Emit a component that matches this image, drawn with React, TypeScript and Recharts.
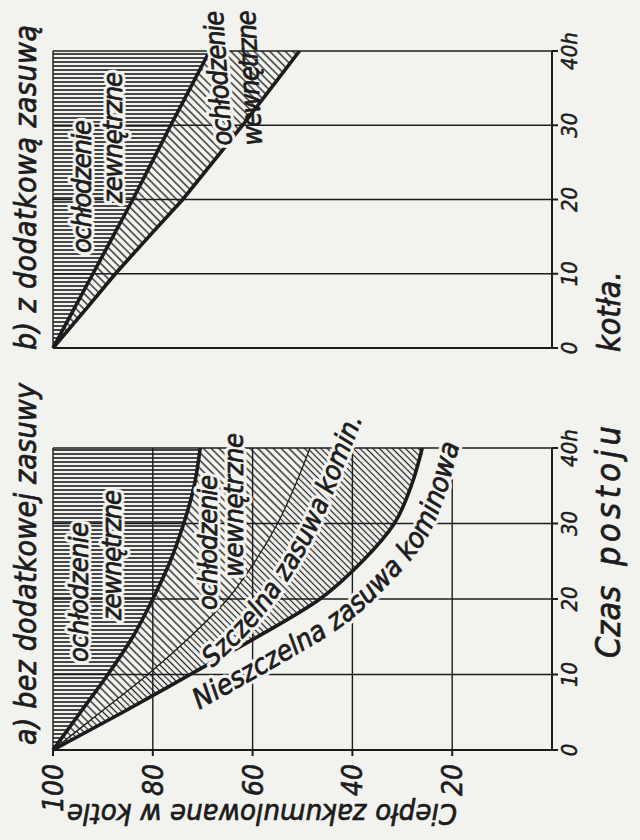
import { Area, CartesianGrid, ComposedChart, Line, XAxis, YAxis } from "recharts";

const INK = "#1c1c1c";
const PAPER = "#f2f2ef";
const FONT = "'DejaVu Sans Condensed', 'DejaVu Sans', sans-serif";

// czas postoju kotła [h]
const hours = [0, 5, 10, 15, 20, 25, 30, 35, 40];

// a) bez dodatkowej zasuwy – ciepło zakumulowane w kotle [%]
const outerCoolingA = [100, 94.5, 89, 84, 80, 76.5, 73.8, 71.7, 70.5];
const tightDamperA = [100, 90.5, 81, 72.5, 65, 59.5, 55, 51.5, 48.5];
const leakyDamperA = [100, 86, 72.5, 59, 46.5, 38, 31.6, 28.2, 26];

// b) z dodatkową zasuwą
const outerCoolingB = [100, 96, 92, 88, 84, 80.2, 76.4, 72.5, 68.6];
const innerCoolingB = [100, 93.7, 87.5, 80.8, 74, 68, 62, 56.3, 50.6];

const hourTicks = [0, 10, 20, 30, 40];
const heatTicks = [20, 40, 60, 80, 100];

const rowsA = hours.map((t, i) => ({
  t,
  outer: outerCoolingA[i],
  tight: tightDamperA[i],
  leaky: leakyDamperA[i],
}));

const rowsB = hours.map((t, i) => ({
  t,
  outer: outerCoolingB[i],
  inner: innerCoolingB[i],
}));

const hourLabel = (v: number) => (v === 40 ? "40h" : String(v));

const textBase = { fontFamily: FONT, fontStyle: "italic" as const, fill: INK };
const inkStroke = { stroke: INK, strokeWidth: 0.7 };
const halo = {
  stroke: PAPER,
  strokeWidth: 7,
  strokeLinejoin: "round" as const,
};

// lettering with a paper-coloured border so hatching stops short of it
function Lettering({ children, cut = true, ...rest }: any) {
  return (
    <g>
      {cut && (
        <text {...textBase} {...rest} {...halo}>
          {children}
        </text>
      )}
      <text {...textBase} {...rest} {...inkStroke}>
        {children}
      </text>
    </g>
  );
}

type Pt = { x: number; y: number };

// Catmull-Rom through the points, written out as cubic segments
function smoothPath(pts: Pt[]) {
  let d = `M${pts[0].x},${pts[0].y}`;
  for (let i = 0; i < pts.length - 1; i++) {
    const p0 = pts[i - 1] ?? pts[i];
    const p1 = pts[i];
    const p2 = pts[i + 1];
    const p3 = pts[i + 2] ?? p2;
    const c1x = p1.x + (p2.x - p0.x) / 6;
    const c1y = p1.y + (p2.y - p0.y) / 6;
    const c2x = p2.x - (p3.x - p1.x) / 6;
    const c2y = p2.y - (p3.y - p1.y) / 6;
    d += ` C${c1x},${c1y} ${c2x},${c2y} ${p2.x},${p2.y}`;
  }
  return d;
}

// shift a polyline sideways (below the curve) and run it on past its last point
function offsetCurve(pts: Pt[], gap: number, reach: number): Pt[] {
  const out = pts.map((p, i) => {
    const a = pts[Math.max(i - 1, 0)];
    const b = pts[Math.min(i + 1, pts.length - 1)];
    const len = Math.hypot(b.x - a.x, b.y - a.y) || 1;
    return { x: p.x - ((b.y - a.y) / len) * gap, y: p.y + ((b.x - a.x) / len) * gap };
  });
  const n = out.length;
  const dx = out[n - 1].x - out[n - 2].x;
  const dy = out[n - 1].y - out[n - 2].y;
  const len = Math.hypot(dx, dy) || 1;
  out.push({ x: out[n - 1].x + (dx / len) * reach, y: out[n - 1].y + (dy / len) * reach });
  return out;
}

// text that follows a series; drawn from the line's own dot callback
function curveLabel(id: string, text: string, gap: number, start: number, size: number) {
  const seen: Pt[] = [];
  return (p: any) => {
    seen[p.index] = { x: p.cx, y: p.cy };
    if (p.index !== hours.length - 1) return <g key={`${id}-${p.index}`} />;
    const d = smoothPath(offsetCurve(seen.slice(0, hours.length), gap, 90));
    return (
      <g key={id}>
        <path id={id} d={d} fill="none" stroke="none" />
        <text {...textBase} {...halo} fontSize={size}>
          <textPath href={`#${id}`} startOffset={start}>
            {text}
          </textPath>
        </text>
        <text {...textBase} {...inkStroke} fontSize={size}>
          <textPath href={`#${id}`} startOffset={start}>
            {text}
          </textPath>
        </text>
      </g>
    );
  };
}

const tightLabel = curveLabel("szczelna", "Szczelna zasuwa komin.", 38, 176, 27);
const leakyLabel = curveLabel("nieszczelna", "Nieszczelna zasuwa kominowa", 35, 148, 28);

const hourTick = { ...textBase, fontSize: 22, stroke: INK, strokeWidth: 0.5 };
const heatTick = { ...textBase, fontSize: 28, stroke: INK, strokeWidth: 0.6 };

function Patterns() {
  return (
    <svg width={0} height={0} style={{ position: "absolute" }}>
      <defs>
        <pattern id="hatch-outer" width={4} height={8} patternUnits="userSpaceOnUse">
          <line x1={2} y1={0} x2={2} y2={8} stroke={INK} strokeWidth={1.6} />
        </pattern>
        <pattern
          id="hatch-inner"
          width={5.5}
          height={8}
          patternUnits="userSpaceOnUse"
          patternTransform="rotate(45)"
        >
          <line x1={2.75} y1={0} x2={2.75} y2={8} stroke={INK} strokeWidth={1.3} />
        </pattern>
        <pattern
          id="hatch-damper"
          width={4.6}
          height={8}
          patternUnits="userSpaceOnUse"
          patternTransform="rotate(45)"
        >
          <line x1={2.3} y1={0} x2={2.3} y2={8} stroke={INK} strokeWidth={1.2} />
        </pattern>
      </defs>
    </svg>
  );
}

function PanelA() {
  return (
    <ComposedChart
      width={440}
      height={640}
      data={rowsA}
      margin={{ top: 53, right: 48, bottom: 58, left: 30 }}
    >
      <CartesianGrid stroke={INK} strokeWidth={1.4} />
      <XAxis
        dataKey="t"
        type="number"
        domain={[0, 40]}
        ticks={hourTicks}
        tickFormatter={hourLabel}
        stroke={INK}
        strokeWidth={2}
        tickSize={6}
        tickMargin={3}
        height={30}
        tick={hourTick}
      />
      <YAxis
        type="number"
        domain={[0, 100]}
        ticks={heatTicks}
        stroke={INK}
        strokeWidth={2}
        width={60}
        tickSize={6}
        tickMargin={8}
        tick={heatTick}
      />
      <Area
        dataKey={(d: any) => [d.outer, 100]}
        type="monotone"
        fill="url(#hatch-outer)"
        fillOpacity={1}
        stroke="none"
        isAnimationActive={false}
      />
      <Area
        dataKey={(d: any) => [d.tight, d.outer]}
        type="monotone"
        fill="url(#hatch-inner)"
        fillOpacity={1}
        stroke="none"
        isAnimationActive={false}
      />
      <Area
        dataKey={(d: any) => [d.leaky, d.tight]}
        type="monotone"
        fill="url(#hatch-damper)"
        fillOpacity={1}
        stroke="none"
        isAnimationActive={false}
      />
      <Line
        dataKey="outer"
        type="monotone"
        stroke={INK}
        strokeWidth={3.6}
        dot={false}
        activeDot={false}
        isAnimationActive={false}
      />
      <Line
        dataKey="tight"
        type="monotone"
        stroke={INK}
        strokeWidth={1.3}
        dot={tightLabel}
        activeDot={false}
        isAnimationActive={false}
      />
      <Line
        dataKey="leaky"
        type="monotone"
        stroke={INK}
        strokeWidth={3.6}
        dot={leakyLabel}
        activeDot={false}
        isAnimationActive={false}
      />
    </ComposedChart>
  );
}

function PanelB() {
  return (
    <ComposedChart
      width={400}
      height={640}
      data={rowsB}
      margin={{ top: 53, right: 51, bottom: 58, left: 44 }}
    >
      <CartesianGrid stroke={INK} strokeWidth={1.4} />
      <XAxis
        dataKey="t"
        type="number"
        domain={[0, 40]}
        ticks={hourTicks}
        tickFormatter={hourLabel}
        stroke={INK}
        strokeWidth={2}
        tickSize={6}
        tickMargin={3}
        height={30}
        tick={hourTick}
      />
      <YAxis
        type="number"
        domain={[0, 100]}
        ticks={heatTicks}
        stroke={INK}
        strokeWidth={2}
        width={8}
        tickSize={6}
        tick={false}
      />
      <Area
        dataKey={(d: any) => [d.outer, 100]}
        type="linear"
        fill="url(#hatch-outer)"
        fillOpacity={1}
        stroke="none"
        isAnimationActive={false}
      />
      <Area
        dataKey={(d: any) => [d.inner, d.outer]}
        type="linear"
        fill="url(#hatch-inner)"
        fillOpacity={1}
        stroke="none"
        isAnimationActive={false}
      />
      <Line
        dataKey="outer"
        type="linear"
        stroke={INK}
        strokeWidth={3.6}
        dot={false}
        activeDot={false}
        isAnimationActive={false}
      />
      <Line
        dataKey="inner"
        type="linear"
        stroke={INK}
        strokeWidth={3.6}
        dot={false}
        activeDot={false}
        isAnimationActive={false}
      />
    </ComposedChart>
  );
}

function Captions() {
  return (
    <svg
      width={840}
      height={640}
      style={{ position: "absolute", left: 0, top: 0, pointerEvents: "none" }}
    >
      <Lettering cut={false} x={95} y={36} fontSize={30} textLength={362}>
        a) bez dodatkowej zasuwy
      </Lettering>
      <Lettering cut={false} x={490} y={36} fontSize={30} textLength={325}>
        b) z dodatkową zasuwą
      </Lettering>
      <Lettering
        cut={false}
        x={36}
        y={262}
        fontSize={29}
        textAnchor="middle"
        textLength={390}
        transform="rotate(-90 36 262)"
      >
        Ciepło zakumulowane w kotle
      </Lettering>
      <Lettering cut={false} x={182} y={620} fontSize={34}>
        Czas
      </Lettering>
      <Lettering cut={false} x={274} y={620} fontSize={34} textLength={140}>
        postoju
      </Lettering>
      <Lettering cut={false} x={488} y={620} fontSize={32}>
        kotła.
      </Lettering>

      <Lettering x={178} y={88} fontSize={27} textLength={140}>
        ochłodzenie
      </Lettering>
      <Lettering x={220} y={121} fontSize={27} textLength={130}>
        zewnętrzne
      </Lettering>
      <Lettering x={230} y={217} fontSize={27} textLength={135}>
        ochłodzenie
      </Lettering>
      <Lettering x={263} y={243} fontSize={27} textLength={144}>
        wewnętrzne
      </Lettering>

      <Lettering x={587} y={91} fontSize={27} textLength={133}>
        ochłodzenie
      </Lettering>
      <Lettering x={637} y={122} fontSize={27} textLength={131}>
        zewnętrzne
      </Lettering>
      <Lettering x={695} y={232} fontSize={27} textLength={135} transform="rotate(-4 695 232)">
        ochłodzenie
      </Lettering>
      <Lettering
        cut={false}
        x={695}
        y={262}
        fontSize={27}
        textLength={135}
        transform="rotate(-3 695 262)"
      >
        wewnętrzne
      </Lettering>
    </svg>
  );
}

export default function App() {
  return (
    <div
      style={{
        position: "absolute",
        left: 0,
        top: 0,
        width: 640,
        height: 840,
        overflow: "hidden",
        background: PAPER,
      }}
    >
      <Patterns />
      {/* the figure is laid out lying on its side: time runs up the page */}
      <div
        style={{
          position: "absolute",
          left: 0,
          top: 0,
          width: 840,
          height: 640,
          transformOrigin: "0 0",
          transform: "translateY(840px) rotate(-90deg)",
        }}
      >
        <div style={{ position: "absolute", left: 0, top: 0 }}>
          <PanelA />
        </div>
        <div style={{ position: "absolute", left: 440, top: 0 }}>
          <PanelB />
        </div>
        <Captions />
      </div>
    </div>
  );
}
